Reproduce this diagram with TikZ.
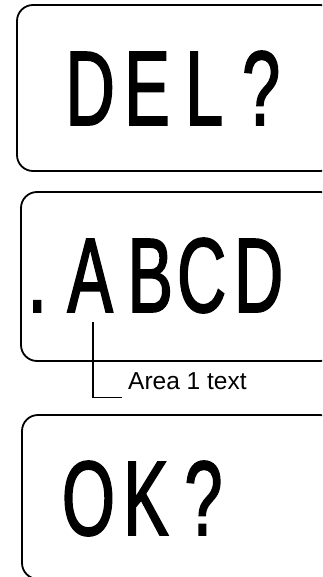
\documentclass[tikz,border=0pt]{standalone}
\usepackage{fontspec}
\setmainfont{Liberation Sans}
\newfontfamily\dispfont[FakeStretch=0.64,FakeBold=1.6]{Liberation Sans}
\newcommand{\cellbox}[2]{\makebox[#1pt][c]{#2}}
\begin{document}
\begin{tikzpicture}[x=1pt,y=-1pt,
  panel/.style={draw=black,line width=1.8pt,rounded corners=16pt},
  bigtext/.style={inner sep=0pt,anchor=base west,font=\dispfont\fontsize{106}{106}\selectfont},
  leader/.style={draw=black,line width=1.4pt},
  labeltext/.style={inner sep=0pt,anchor=base west,font=\fontsize{24.5}{24.5}\selectfont}]
\useasboundingbox (0,0) rectangle (322,577);
\clip (0,0) rectangle (322,577);
\draw[panel] (17,5) rectangle (336,171);
\draw[panel] (21,192) rectangle (336,361);
\draw[panel] (22,415) rectangle (336,579);
\node[bigtext] (del) at (61.5,125) {\cellbox{57}{D}\cellbox{57}{E}\cellbox{57}{L}\cellbox{57}{?}};
\node[bigtext] (abcd) at (10,312) {\cellbox{54}{.}\cellbox{52}{A}\cellbox{68}{B}\cellbox{35}{C}\cellbox{79}{D}};
\node[bigtext] (ok) at (59.5,535) {\cellbox{57.5}{O}\cellbox{57.5}{K}\cellbox{57.5}{?}};
\node[labeltext] (area) at (128,389) {Area 1 text};
\coordinate (lead) at (93,322);
\draw[leader] (lead) |- ([xshift=-6pt,yshift=-8.5pt]area.base west);
\end{tikzpicture}
\end{document}
